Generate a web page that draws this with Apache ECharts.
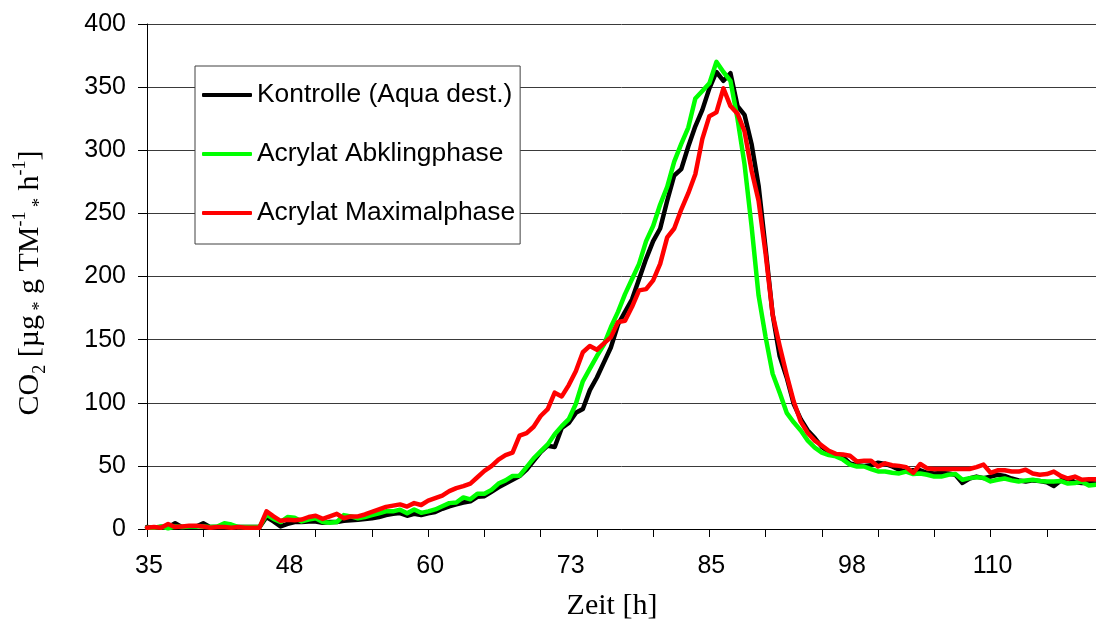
<!DOCTYPE html>
<html>
<head>
<meta charset="utf-8">
<script src="https://cdn.jsdelivr.net/npm/echarts@6/dist/echarts.min.js"></script>
<style>
  html, body { margin: 0; padding: 0; background: #ffffff; }
  #chart { width: 1096px; height: 626px; }
</style>
</head>
<body>
<div id="chart"></div>
<script>
// Sampling: one measurement every 0.625 h starting at 35 h
const startHour = 35;
const stepHour = 0.625;
const sampleCount = 136;
const hours = [];
for (let i = 0; i < sampleCount; i++) hours.push(String(startHour + i * stepHour));

const seriesNames = ['Kontrolle (Aqua dest.)', 'Acrylat Abklingphase', 'Acrylat Maximalphase'];

// CO2 release [µg * g TM-1 * h-1]
const kontrolle = [
  1.5, 1, 1.5, 1.5, 4.5, 1.5, 1.5, 2, 4.5, 1.5,
  1.5, 1.5, 1.5, 1.5, 1.5, 1.5, 1.5, 9.5, 6, 2,
  4, 5.5, 5.5, 6, 6, 5, 5.5, 5.5, 6.5, 7,
  7.4, 8, 8.5, 9.5, 11, 12, 12.6, 10.5, 12, 11,
  12.5, 13.5, 16, 18, 19.5, 21, 22, 25.5, 26, 29.5,
  33, 36, 39, 42, 47, 54, 61, 66, 65, 80,
  84, 92, 95, 110, 120, 132, 144, 162, 172, 182,
  198, 214, 228, 238, 260, 280, 285, 303, 319, 332,
  349, 362, 355, 361, 335, 328, 305, 272, 222, 170,
  137, 120, 99, 87, 78, 72, 65, 61, 58, 57,
  52, 50.5, 50, 50.5, 52.5, 51.5, 49.5, 47, 45.5, 46.5,
  46.5, 44.5, 44, 44.3, 44, 43, 36.5, 40, 41.5, 40.3,
  41.5, 43, 42, 40, 38.5, 37.7, 38.5, 38, 37, 34,
  38.5, 40, 37, 36.5, 36.5, 36
];
const abklingphase = [
  1, 1, 2, 0.5, 2, 1.5, 2, 2, 2, 1.5,
  2, 4.5, 3.5, 1.5, 1.5, 1.5, 1.5, 11.5, 8, 5.5,
  9.5, 9, 6, 7.5, 8.5, 5.5, 5, 5.5, 11, 10,
  8.5, 9.5, 11, 12.5, 14, 14, 15.3, 12.5, 15.5, 12.8,
  14, 15.5, 18, 20.5, 21, 25, 23.5, 28, 28, 31,
  36, 38.5, 42, 42.2, 49, 56, 61.5, 67, 75, 81.5,
  87, 99, 117, 127, 137, 146, 160, 172, 186, 198,
  210, 228, 240, 257, 271, 291, 305, 318, 341, 347,
  353, 370, 362, 355, 325, 289, 240, 185, 152, 123,
  108, 92, 84.5, 78, 70, 64.5, 60.5, 58.5, 57.5, 55,
  51, 49.5, 49.5, 47.5, 45.6, 45.6, 44.5, 44, 45.5, 43.5,
  44, 43, 41.5, 41.5, 43, 43.5, 39, 40.3, 41, 40.5,
  37.7, 39, 40, 38.5, 37.7, 38.5, 39, 38, 37.7, 37.7,
  38, 36, 36.5, 37.5, 34.5, 35
];
const maximalphase = [
  1, 1.5, 1, 4, 1.5, 2, 2.5, 2.5, 2, 1,
  1.5, 1.5, 1, 1.5, 1, 1, 1, 14, 10, 6.5,
  7.4, 7, 7.5, 9.5, 10.5, 8, 10, 12, 8.5, 10,
  10, 11.5, 13.5, 15.5, 17.5, 18.5, 19.5, 17.8, 20.5, 19,
  22.5, 24.5, 26.5, 30, 32.4, 34, 36, 41, 46, 49.8,
  55, 58.5, 60.5, 74, 76, 81, 89.5, 95, 108, 105,
  114, 125, 140, 145, 142, 147, 152, 164, 165, 176,
  189, 190, 197, 210, 231, 238, 253, 266, 281, 309,
  327, 330, 349, 335, 329, 315, 284, 260, 218, 170,
  145, 122, 101, 85, 76, 70, 66, 62, 59.5, 59,
  58, 53.5, 54, 54, 49.5, 52, 50.5, 50, 49, 44.5,
  51.5, 48, 47.5, 47.5, 47.5, 47.5, 47.5, 47.5, 49, 51,
  44.5, 46.5, 46.5, 45.5, 45.5, 47, 44, 43, 43.5, 45.5,
  42, 40, 41.5, 39, 39.5, 39.5
];

const yMin = 0, yMax = 400, yStep = 50;

const chart = echarts.init(document.getElementById('chart'), null, { renderer: 'canvas' });

const sansFont = '"Liberation Sans", Arial, sans-serif';
const serifFont = '"Liberation Serif", "Times New Roman", serif';

function lineSeries(name, data, color) {
  return {
    name: name,
    type: 'line',
    data: data,
    showSymbol: false,
    symbol: 'none',
    smooth: false,
    lineStyle: { color: color, width: 4.5, join: 'round', cap: 'round' },
    itemStyle: { color: color },
    emphasis: { disabled: true },
    animation: false
  };
}

chart.setOption({
  backgroundColor: '#ffffff',
  animation: false,
  grid: { left: 147, right: 0, top: 24, bottom: 97, containLabel: false },
  xAxis: {
    type: 'category',
    data: hours,
    boundaryGap: false,
    axisLine: { show: true, lineStyle: { color: '#000000', width: 1 } },
    axisTick: { show: true, interval: 7, length: 8, lineStyle: { color: '#000000', width: 1 } },
    axisLabel: {
      interval: 19,
      margin: 25,
      color: '#000000',
      fontFamily: sansFont,
      fontSize: 25,
      padding: [0, 0, 0, 4],
      formatter: v => String(Math.round(Number(v)))
    },
    splitLine: { show: false }
  },
  yAxis: {
    type: 'value',
    min: yMin,
    max: yMax,
    interval: yStep,
    axisLine: { show: true, lineStyle: { color: '#000000', width: 1 } },
    axisTick: { show: true, length: 9, lineStyle: { color: '#000000', width: 1 } },
    axisLabel: { margin: 21, color: '#000000', fontFamily: sansFont, fontSize: 25 },
    splitLine: { show: true, lineStyle: { color: '#3a3a3a', width: 1 } }
  },
  legend: {
    orient: 'vertical',
    left: 195,
    top: 66,
    padding: [14, 5, 16, 7],
    itemGap: 29,
    itemWidth: 50,
    itemHeight: 4,
    icon: 'roundRect',
    selectedMode: false,
    backgroundColor: '#ffffff',
    borderColor: '#404040',
    borderWidth: 1,
    borderRadius: 0,
    textStyle: { color: '#000000', fontFamily: sansFont, fontSize: 26.4, lineHeight: 30 },
    data: seriesNames
  },
  graphic: [
    {
      type: 'text',
      x: 612,
      y: 606,
      silent: true,
      style: {
        text: 'Zeit [h]',
        fontFamily: serifFont,
        fontSize: 30,
        fill: '#000000',
        align: 'center',
        verticalAlign: 'middle'
      }
    },
    {
      type: 'text',
      x: 30,
      y: 283,
      rotation: Math.PI / 2,
      silent: true,
      style: {
        text: '{m|CO}{s|2}{m| [µg}{s| *}{m| g TM}{p|-1}{s| *}{m| h}{p|-1}{m|]}',
        align: 'center',
        verticalAlign: 'middle',
        fill: '#000000',
        rich: {
          m: { fontFamily: serifFont, fontSize: 30, lineHeight: 38, fill: '#000000', verticalAlign: 'middle' },
          s: { fontFamily: serifFont, fontSize: 18, lineHeight: 18, fill: '#000000', verticalAlign: 'bottom' },
          p: { fontFamily: serifFont, fontSize: 18, lineHeight: 18, fill: '#000000', verticalAlign: 'top' }
        }
      }
    }
  ],
  series: [
    lineSeries(seriesNames[0], kontrolle, '#000000'),
    lineSeries(seriesNames[1], abklingphase, '#00ff00'),
    lineSeries(seriesNames[2], maximalphase, '#ff0000')
  ]
});
</script>
</body>
</html>
